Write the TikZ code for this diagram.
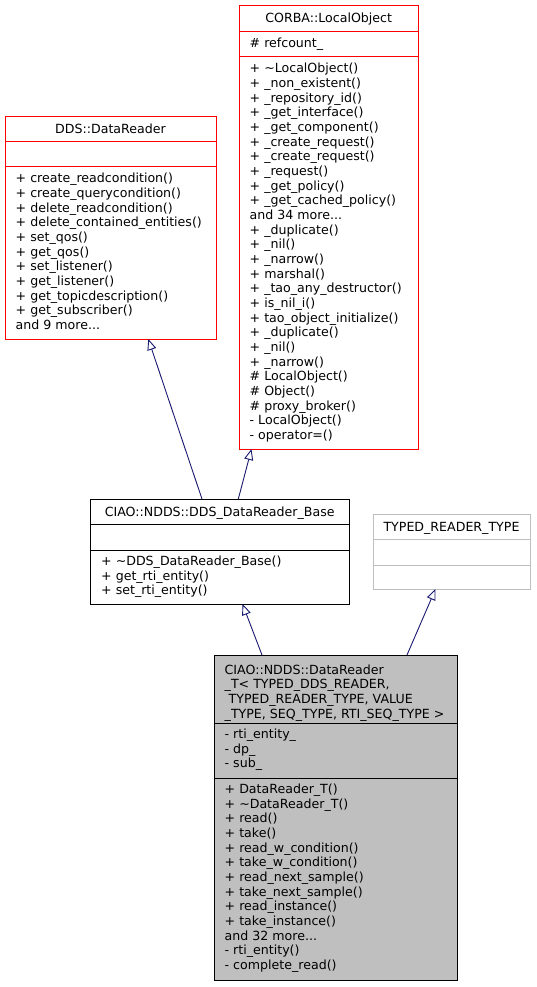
\documentclass[tikz,border=0pt]{standalone}
\usepackage{fontspec}
\setmainfont{DejaVu Sans}
\usetikzlibrary{arrows.meta}
\definecolor{edgeblue}{HTML}{191970}
\definecolor{grey75}{HTML}{BFBFBF}
\newcommand\mydots{...}
\newcommand\boxlines[4]{%
  \foreach \t [count=\i] in {#4} {\node[txt] (#1-\i) at (#2, {#3+(\i-1)*14.67}) {\t};}}
\begin{document}
\begin{tikzpicture}[x=1pt,y=-1pt,
  txt/.style={inner sep=0pt, anchor=base west, font=\fontsize{12.6pt}{14.67pt}\selectfont},
  ttl/.style={inner sep=0pt, anchor=base, font=\fontsize{12.6pt}{14.67pt}\selectfont},
  cls/.style={rectangle, inner sep=0pt, outer sep=0pt, anchor=north west, line width=1pt},
  sep/.style={line width=1pt},
  edge/.style={draw=edgeblue, line width=0.9pt, -{Triangle[open, length=11pt, width=9pt]}}]
\useasboundingbox (0,0) rectangle (536,987);
\fill[white] (0,0) rectangle (536,987);

% DDS::DataReader
\node[cls, draw=red, fill=white, minimum width=211pt, minimum height=222pt] (dds) at (5,117) {};
\draw[sep, red] (5,142) -- (216,142) (5,167) -- (216,167);
\node[ttl] (dds-t) at (110.5,134) {DDS::DataReader};
\boxlines{ddsm}{15.5}{182.7}{+ create\_readcondition(),+ create\_querycondition(),+ delete\_readcondition(),+ delete\_contained\_entities(),+ set\_qos(),+ get\_qos(),+ set\_listener(),+ get\_listener(),+ get\_topicdescription(),+ get\_subscriber(),and 9 more\mydots}

% CORBA::LocalObject
\node[cls, draw=red, fill=white, minimum width=179.5pt, minimum height=443pt] (corba) at (239,6) {};
\draw[sep, red] (239,32) -- (418.5,32) (239,57) -- (418.5,57);
\node[ttl] (corba-t) at (328.7,23) {CORBA::LocalObject};
\node[txt] (corba-a1) at (249.5,47.6) {\# refcount\_};
\boxlines{corbam}{249.5}{72.7}{+ \textasciitilde LocalObject(),+ \_non\_existent(),+ \_repository\_id(),+ \_get\_interface(),+ \_get\_component(),+ \_create\_request(),+ \_create\_request(),+ \_request(),+ \_get\_policy(),+ \_get\_cached\_policy(),and 34 more\mydots,+ \_duplicate(),+ \_nil(),+ \_narrow(),+ marshal(),+ \_tao\_any\_destructor(),+ is\_nil\_i(),+ tao\_object\_initialize(),+ \_duplicate(),+ \_nil(),+ \_narrow(),\# LocalObject(),\# Object(),\# proxy\_broker(),- LocalObject(),- operator=()}

% CIAO::NDDS::DDS_DataReader_Base
\node[cls, draw=black, fill=white, minimum width=258.5pt, minimum height=105pt] (base) at (90.5,499) {};
\draw[sep, black] (90.5,524) -- (349,524) (90.5,550) -- (349,550);
\node[ttl] (base-t) at (219.7,516) {CIAO::NDDS::DDS\_DataReader\_Base};
\boxlines{basem}{101}{565.6}{+ \textasciitilde DDS\_DataReader\_Base(),+ get\_rti\_entity(),+ set\_rti\_entity()}

% TYPED_READER_TYPE
\node[cls, draw=grey75, fill=white, minimum width=157pt, minimum height=75pt] (typed) at (373,514) {};
\draw[sep, grey75] (373,539) -- (530,539) (373,565) -- (530,565);
\node[ttl] (typed-t) at (451.5,531) {TYPED\_READER\_TYPE};

% CIAO::NDDS::DataReader_T
\node[cls, draw=black, fill=grey75, minimum width=243pt, minimum height=325pt] (drt) at (214,655) {};
\draw[sep, black] (214,723) -- (457,723) (214,778) -- (457,778);
\boxlines{drtt}{224.5}{674}{CIAO::NDDS::DataReader,{\_T< TYPED\_DDS\_READER,},{\ TYPED\_READER\_TYPE, VALUE},{\_TYPE, SEQ\_TYPE, RTI\_SEQ\_TYPE >}}
\boxlines{drta}{224.5}{738.6}{- rti\_entity\_,- dp\_,- sub\_}
\boxlines{drtm}{224.5}{793.6}{+ DataReader\_T(),+ \textasciitilde DataReader\_T(),+ read(),+ take(),+ read\_w\_condition(),+ take\_w\_condition(),+ read\_next\_sample(),+ take\_next\_sample(),+ read\_instance(),+ take\_instance(),and 32 more\mydots,- rti\_entity(),- complete\_read()}

% inheritance edges
\draw[edge] ([xshift=111.5pt]base.north west) -- ([xshift=143.3pt]dds.south west);
\draw[edge] ([xshift=147.8pt]base.north west) -- ([xshift=12.5pt]corba.south west);
\draw[edge] ([xshift=48pt]drt.north west) -- ([xshift=152pt]base.south west);
\draw[edge] ([xshift=193pt]drt.north west) -- ([xshift=62.5pt]typed.south west);
\end{tikzpicture}
\end{document}
